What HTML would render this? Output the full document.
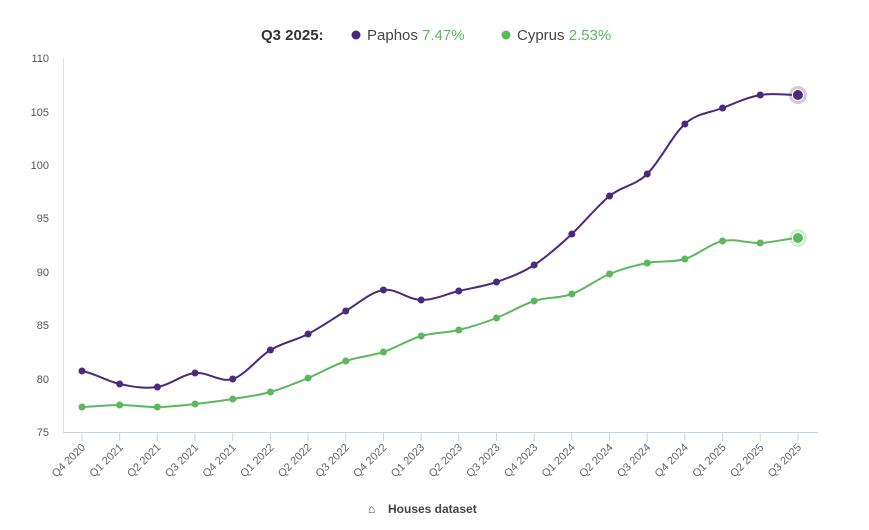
<!DOCTYPE html>
<html><head><meta charset="utf-8"><style>
body{margin:0;background:#fff;width:869px;height:525px;overflow:hidden;font-family:"Liberation Sans",sans-serif}
</style></head><body>
<svg id="c" width="869" height="525" xmlns="http://www.w3.org/2000/svg" font-family="Liberation Sans, sans-serif">
<text x="261" y="40" font-size="15" font-weight="bold" fill="#333">Q3 2025:</text>
<circle cx="356" cy="35" r="4.5" fill="#4a2a7a"/>
<text x="367" y="40" font-size="15" fill="#444">Paphos <tspan fill="#5cb85c">7.47%</tspan></text>
<circle cx="506" cy="35" r="4.5" fill="#5cb85c"/>
<text x="517" y="40" font-size="15" fill="#444">Cyprus <tspan fill="#5cb85c">2.53%</tspan></text>
<line x1="63.5" y1="58" x2="63.5" y2="432" stroke="#dde3ee"/>
<line x1="63" y1="432.5" x2="818" y2="432.5" stroke="#c5d3e8"/>
<g font-size="11" fill="#555" text-anchor="end">
<text x="49" y="62">110</text><text x="49" y="116">105</text><text x="49" y="169">100</text>
<text x="49" y="222">95</text><text x="49" y="276">90</text><text x="49" y="329">85</text>
<text x="49" y="383">80</text><text x="49" y="436">75</text>
</g>
<g id="xt"></g>
<g id="series"></g>
<text x="368" y="513" font-size="12" fill="#444">&#8962;</text>
<text x="388" y="513" font-size="12" font-weight="bold" fill="#444">Houses dataset</text>
</svg>
<script>
var labels=["Q4 2020","Q1 2021","Q2 2021","Q3 2021","Q4 2021","Q1 2022","Q2 2022","Q3 2022","Q4 2022","Q1 2023","Q2 2023","Q3 2023","Q4 2023","Q1 2024","Q2 2024","Q3 2024","Q4 2024","Q1 2025","Q2 2025","Q3 2025"];
var P=[371,384,387,373,379,350,334,311,290,300,291,282,265,234,196,174,124,108,95,95];
var C=[407,405,407,404,399,392,378,361,352,336,330,318,301,294,274,263,259,241,243,238];
var ns="http://www.w3.org/2000/svg";
function X(i){return 82+i*37.68;}
var xt=document.getElementById("xt"),h="";
labels.forEach(function(l,i){var x=X(i);
h+='<line x1="'+x+'" y1="432" x2="'+x+'" y2="441" stroke="#c5d3e8"/>';
h+='<text transform="translate('+(x+4)+',448) rotate(-45)" text-anchor="end" font-size="11" fill="#666">'+l+'</text>';});
xt.innerHTML=h;
function path(Y){var d="M"+X(0)+","+Y[0];
for(var i=0;i<Y.length-1;i++){var y0=Y[Math.max(i-1,0)],y3=Y[Math.min(i+2,Y.length-1)];
var x1=X(i),x2=X(i+1);var t=0.17;
d+=" C"+(x1+37.68/3)+","+(Y[i]+(Y[i+1]-y0)*t)+" "+(x2-37.68/3)+","+(Y[i+1]-(y3-Y[i])*t)+" "+x2+","+Y[i+1];}
return d;}
var s="";
[[C,"#5cb85c"],[P,"#4a2a7a"]].forEach(function(a){var Y=a[0],c=a[1];
s+='<path d="'+path(Y)+'" fill="none" stroke="'+c+'" stroke-width="2"/>';
Y.forEach(function(y,i){if(i<19)s+='<circle cx="'+X(i)+'" cy="'+y+'" r="3.5" fill="'+c+'"/>';});
s+='<circle cx="'+X(19)+'" cy="'+Y[19]+'" r="9" fill="'+c+'" opacity="0.25"/>';
s+='<circle cx="'+X(19)+'" cy="'+Y[19]+'" r="5.5" fill="'+c+'" stroke="#fff" stroke-width="1"/>';});
document.getElementById("series").innerHTML=s;
</script>
</body></html>
